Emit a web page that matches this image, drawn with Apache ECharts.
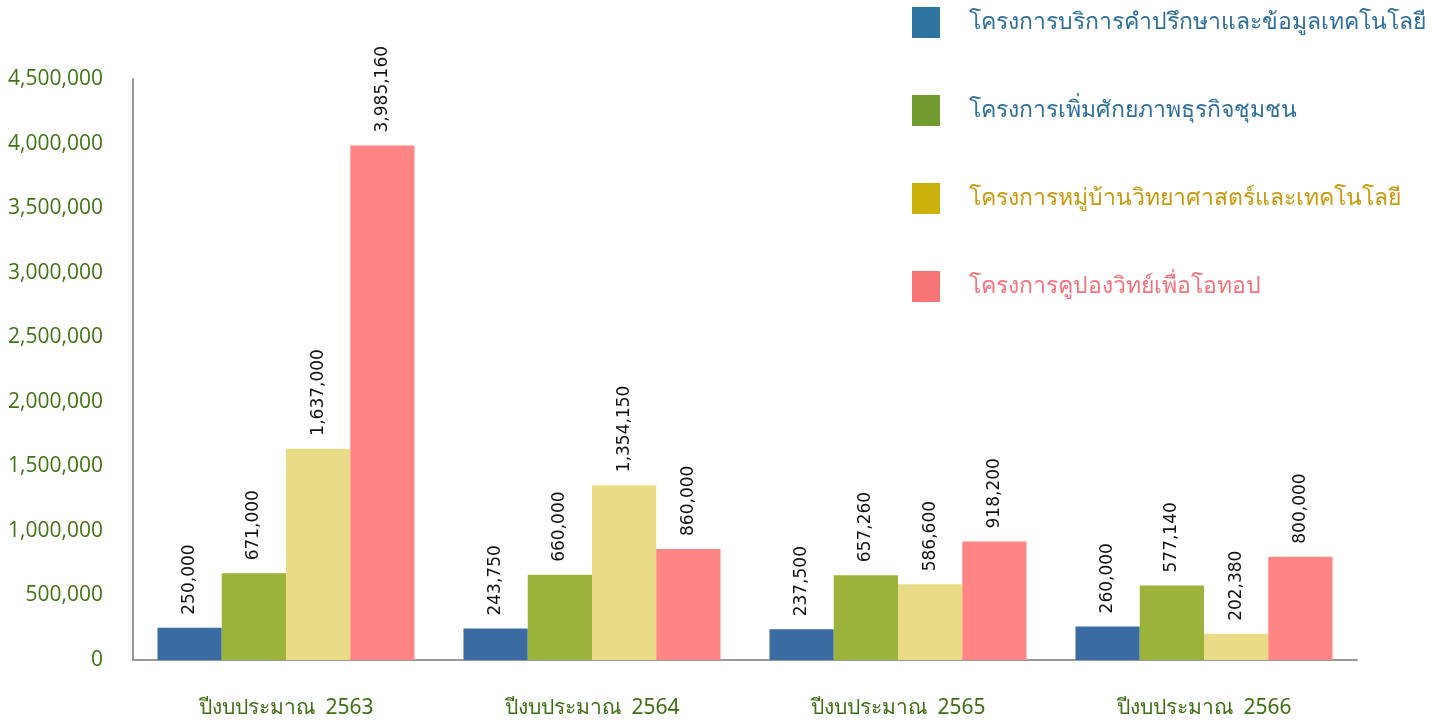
<!DOCTYPE html>
<html>
<head>
<meta charset="utf-8">
<script src="https://cdn.jsdelivr.net/npm/echarts@6/dist/echarts.min.js"></script>
<style>
  html, body { margin: 0; padding: 0; background: #fff; }
  #budget-bar { width: 1452px; height: 723px; }
</style>
</head>
<body>
<div id="budget-bar"></div>
<script>
// ปีงบประมาณ
const years = ['ปีงบประมาณ  2563', 'ปีงบประมาณ  2564', 'ปีงบประมาณ  2565', 'ปีงบประมาณ  2566']
const projectNames = [
  'โครงการบริการคำปรึกษาและข้อมูลเทคโนโลยี',
  'โครงการเพิ่มศักยภาพธุรกิจชุมชน',
  'โครงการหมู่บ้านวิทยาศาสตร์และเทคโนโลยี',
  'โครงการคูปองวิทย์เพื่อโอทอป'
]
const consulting = [250000, 243750, 237500, 260000]
const community = [671000, 660000, 657260, 577140]
const village = [1637000, 1354150, 586600, 202380]
const coupon = [3985160, 860000, 918200, 800000]

const barColors = ['#3a6ca3', '#9bb23b', '#eadc86', '#ff8585']
const legendSquares = ['#2e74a0', '#739c30', '#ccb00b', '#f77474']
const legendText = ['#2f6f9c', '#2f6f9c', '#c9990b', '#f4727a']

const thaiFont = 'Tahoma, "Noto Sans", "DejaVu Sans", sans-serif'

let myChart = echarts.init(document.getElementById('budget-bar'))

function makeSeries(name, data, i) {
  return {
    name: name,
    type: 'bar',
    data: data,
    barGap: 0,
    barCategoryGap: '16%',
    itemStyle: { color: barColors[i] },
    label: {
      show: true,
      position: 'top',
      rotate: 90,
      align: 'left',
      verticalAlign: 'middle',
      distance: 13,
      color: '#111',
      fontSize: 17,
      fontFamily: '"DejaVu Sans", Verdana, sans-serif',
      formatter: p => p.value.toLocaleString('en-US')
    }
  }
}

myChart.setOption({
  animation: false,
  grid: { left: 133, right: 95, top: 79, bottom: 63 },
  legend: {
    orient: 'vertical',
    left: 912,
    top: 7,
    padding: 0,
    itemWidth: 28,
    itemHeight: 31,
    itemGap: 57,
    icon: 'rect',
    data: projectNames.map((n, i) => ({
      name: n,
      itemStyle: { color: legendSquares[i] },
      textStyle: { color: legendText[i] }
    })),
    textStyle: { fontSize: 23, fontFamily: thaiFont, padding: [0, 0, 0, 24] }
  },
  xAxis: {
    type: 'category',
    data: years,
    axisLine: { lineStyle: { color: '#999', width: 2 } },
    axisTick: { show: false },
    axisLabel: { color: '#3f6f14', fontSize: 21, fontFamily: thaiFont, margin: 38 }
  },
  yAxis: {
    type: 'value',
    min: 0,
    max: 4500000,
    interval: 500000,
    axisLine: { show: true, lineStyle: { color: '#999', width: 2 } },
    axisTick: { show: false },
    splitLine: { show: false },
    axisLabel: {
      color: '#3f7314',
      fontSize: 21,
      fontFamily: '"Open Sans", Tahoma, sans-serif',
      margin: 30,
      formatter: v => v.toLocaleString('en-US')
    }
  },
  series: [
    makeSeries(projectNames[0], consulting, 0),
    makeSeries(projectNames[1], community, 1),
    makeSeries(projectNames[2], village, 2),
    makeSeries(projectNames[3], coupon, 3)
  ]
})
</script>
</body>
</html>
